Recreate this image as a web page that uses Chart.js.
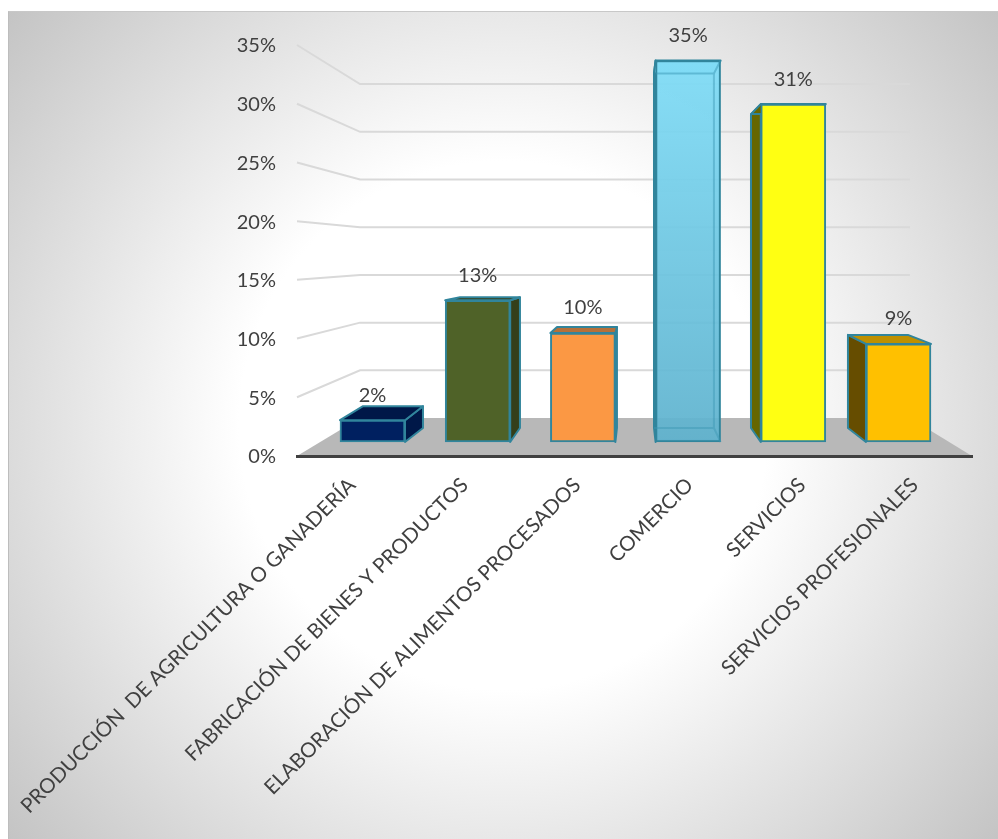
<!DOCTYPE html>
<html lang="es">
<head>
<meta charset="utf-8">
<title>Actividades</title>
<script src="https://cdn.jsdelivr.net/npm/chart.js@4"></script>
<style>
    html, body { margin: 0; padding: 0; background: #fff; overflow: hidden; }
    #frame {
        position: absolute; left: 8px; top: 11px; width: 990px; height: 828px;
        box-sizing: border-box; border-left: 1px solid #bdbdbd; border-top: 1px solid #c8c8c8;
        background: radial-gradient(circle farthest-corner at 50% 50%, #fff 41%, #c4c4c4 100%);
    }
    #chart { position: absolute; left: 0; top: 0; }
</style>
</head>
<body>
<div id="frame"></div>
<canvas id="chart" width="998" height="839"></canvas>
<script>
const categories = [
    'PRODUCCIÓN  DE AGRICULTURA O GANADERÍA',
    'FABRICACIÓN DE BIENES Y PRODUCTOS',
    'ELABORACIÓN DE ALIMENTOS PROCESADOS',
    'COMERCIO',
    'SERVICIOS',
    'SERVICIOS PROFESIONALES',
];
const percentages = [2, 13, 10, 35, 31, 9];
const percentTicks = [0, 5, 10, 15, 20, 25, 30, 35];

// Face colours of each box
const frontColors = ['#002060', '#4f6228', '#fb9844', null, '#ffff12', '#ffc000'];
const sideColors = ['#001848', '#343f1a', '#a8642e', 'rgba(70,150,175,0.8)', '#666600', '#664d00'];
const topColors = ['#001848', '#343f1a', '#b5703a', 'rgba(135,225,250,0.9)', '#666600', '#bf9000'];
// How far the rear top edge rises above the front top edge, in pixels
const topRise = [14, 3, 6, -13, -10, 9];

const edgeColor = '#31859c';
const textColor = '#404040';
const fontFamily = 'Lato, "Open Sans", sans-serif';
const wallStart = -0.34;
const wallEnd = 5.33;

function polygon(ctx, pts, fill, stroke) {
    ctx.beginPath();
    pts.forEach((p, i) => (i ? ctx.lineTo(p[0], p[1]) : ctx.moveTo(p[0], p[1])));
    ctx.closePath();
    if (fill) {
        ctx.fillStyle = fill;
        ctx.fill();
    }
    if (stroke) {
        ctx.strokeStyle = stroke;
        ctx.lineWidth = 2;
        ctx.stroke();
    }
}

// Rear corners of a box, on the back plane scales
function rearOf(chart, bar, i) {
    const { xBack, xBars, yBars } = chart.scales;
    const half = (bar.width * (xBack.getPixelForValue(1) - xBack.getPixelForValue(0))) /
        (xBars.getPixelForValue(1) - xBars.getPixelForValue(0)) / 2;
    const cx = xBack.getPixelForValue(i);
    const floorY = yBars.getPixelForValue(0) - 14;
    return { left: cx - half, right: cx + half, top: bar.y - topRise[i], bottom: floorY };
}

const perspective = {
    id: 'perspective',
    // floor and walls, under the axes
    beforeDraw(chart) {
        const { ctx, chartArea, scales } = chart;
        const { y, yBack, xBack } = scales;
        const backLeft = xBack.getPixelForValue(wallStart);
        const backRight = xBack.getPixelForValue(wallEnd);
        ctx.save();
        polygon(ctx, [
            [chartArea.left, y.getPixelForValue(0)],
            [chartArea.right, y.getPixelForValue(0)],
            [backRight, yBack.getPixelForValue(0)],
            [backLeft, yBack.getPixelForValue(0)],
        ], '#b8b8b8');
        ctx.strokeStyle = '#d9d9d9';
        ctx.lineWidth = 2;
        percentTicks.slice(1).forEach((t) => {
            ctx.beginPath();
            ctx.moveTo(chartArea.left, y.getPixelForValue(t));
            ctx.lineTo(backLeft, yBack.getPixelForValue(t));
            ctx.lineTo(backRight, yBack.getPixelForValue(t));
            ctx.stroke();
        });
        ctx.restore();
    },
    // side and top faces go behind the front of each box
    beforeDatasetsDraw(chart) {
        const { ctx } = chart;
        ctx.save();
        ctx.lineJoin = 'round';
        chart.getDatasetMeta(0).data.forEach((bar, i) => {
            const r = rearOf(chart, bar, i);
            const left = bar.x - bar.width / 2;
            const right = bar.x + bar.width / 2;
            if (r.right > right) {
                polygon(ctx, [[right, bar.y], [r.right, r.top], [r.right, r.bottom], [right, bar.base]], sideColors[i], edgeColor);
            }
            if (r.left < left) {
                polygon(ctx, [[left, bar.y], [r.left, r.top], [r.left, r.bottom], [left, bar.base]], sideColors[i], edgeColor);
            }
            polygon(ctx, [[left, bar.y], [right, bar.y], [r.right, r.top], [r.left, r.top]], topColors[i], edgeColor);
        });
        ctx.restore();
    },
    afterDatasetsDraw(chart) {
        const { ctx } = chart;
        const bars = chart.getDatasetMeta(0).data;
        ctx.save();

        // the COMERCIO box is see-through, its rear edges show
        const bar = bars[3];
        const r = rearOf(chart, bar, 3);
        const left = bar.x - bar.width / 2;
        const right = bar.x + bar.width / 2;
        ctx.strokeStyle = 'rgba(60,150,180,0.45)';
        ctx.lineWidth = 2;
        ctx.beginPath();
        ctx.moveTo(left, r.top);
        ctx.lineTo(r.right, r.top);
        ctx.lineTo(right, bar.y);
        ctx.moveTo(r.right, r.top);
        ctx.lineTo(r.right, r.bottom);
        ctx.lineTo(right, bar.base);
        ctx.moveTo(r.right, r.bottom);
        ctx.lineTo(r.left, r.bottom);
        ctx.stroke();

        // value above each box
        ctx.fillStyle = textColor;
        ctx.font = '20px ' + fontFamily;
        ctx.textAlign = 'center';
        ctx.textBaseline = 'middle';
        bars.forEach((b, i) => {
            ctx.fillText(percentages[i] + '%', b.x, b.y - 25);
        });
        ctx.restore();
    },
};

function comercioFill(context) {
    const area = context.chart.chartArea;
    if (!area) return 'rgba(120,210,235,0.9)';
    const g = context.chart.ctx.createLinearGradient(0, area.top, 0, area.bottom);
    g.addColorStop(0, 'rgba(130,222,248,0.95)');
    g.addColorStop(1, 'rgba(92,176,204,0.92)');
    return g;
}

new Chart(document.getElementById('chart'), {
    type: 'bar',
    data: {
        labels: categories,
        datasets: [{
            data: percentages.map((v, i) => ({ x: i, y: v })),
            xAxisID: 'xBars',
            yAxisID: 'yBars',
            barThickness: 65,
            backgroundColor: (c) => frontColors[c.dataIndex] || comercioFill(c),
            borderColor: edgeColor,
            borderWidth: 2,
            borderSkipped: false,
        }],
    },
    options: {
        responsive: false,
        animation: false,
        layout: { padding: { left: 0, top: 45, right: 26, bottom: 0 } },
        plugins: { legend: { display: false }, tooltip: { enabled: false } },
        scales: {
            // front plane, carries the labels
            x: {
                type: 'category',
                position: 'bottom',
                grid: { display: false, drawTicks: false },
                border: { display: true, color: '#404040', width: 3 },
                ticks: {
                    color: textColor,
                    font: { family: fontFamily, size: 20.5 },
                    minRotation: 45,
                    maxRotation: 45,
                    autoSkip: false,
                    padding: 17,
                    labelOffset: -1,
                },
                afterFit(scale) {
                    scale.height = 383;
                    scale.paddingLeft = 0;
                    scale.paddingRight = 0;
                },
            },
            y: {
                min: 0,
                max: 35,
                position: 'left',
                grid: { display: false, drawTicks: false },
                border: { display: false },
                ticks: {
                    stepSize: 5,
                    color: textColor,
                    padding: 21,
                    labelOffset: 1,
                    font: { family: fontFamily, size: 20 },
                    callback: (v) => v + '%',
                },
                afterFit(scale) {
                    scale.width = 297;
                },
            },
            // plane the box fronts stand on
            xBars: { type: 'linear', display: false, offset: false, min: -0.7177, max: 5.699 },
            yBars: { display: false, min: -1.284, max: 36.42 },
            // rear plane of the floor and walls
            xBack: { type: 'linear', display: false, offset: false, min: -0.99, max: 5.97 },
            yBack: { display: false, min: -3.98, max: 39.1 },
        },
    },
    plugins: [perspective],
});
</script>
</body>
</html>
